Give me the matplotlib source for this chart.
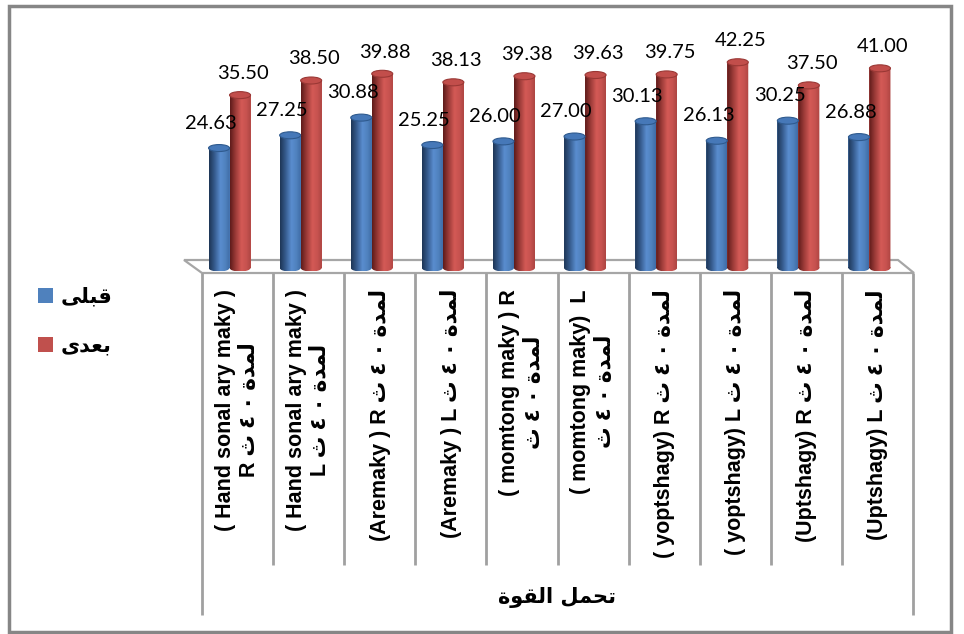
import matplotlib
matplotlib.use("Agg")
import matplotlib.pyplot as plt
import matplotlib.transforms as mtransforms
from matplotlib.colors import LinearSegmentedColormap
from matplotlib.patches import Ellipse, Polygon, Rectangle, PathPatch
from matplotlib.path import Path
import numpy as np

# Arabic words are kept in display order with presentation forms,
# matplotlib does no shaping or right-to-left layout by itself
dur = "\uFE99 \u0664 \u0660 \uFE93\uFEAA\uFEE4\uFEDF"          # لمدة ٤٠ ث
before_name = "\uFEF0\uFEE0\uFE92\uFED7"                        # قبلى
after_name = "\uFEEF\uFEAA\uFECC\uFE91"                         # بعدى
group_name = "\uFE93\uFEEE\uFED8\uFEDF\uFE8D \uFEDE\uFEE4\uFEA4\uFE97"  # تحمل القوة

categories = [
    "( Hand sonal ary maky )\nR " + dur,
    "( Hand sonal ary maky )\nL " + dur,
    "(Aremaky ) R " + dur,
    "(Aremaky ) L " + dur,
    "( momtong maky ) R\n" + dur,
    "( momtong maky)  L\n" + dur,
    "( yoptshagy) R " + dur,
    "( yoptshagy) L " + dur,
    "(Uptshagy) R " + dur,
    "(Uptshagy) L " + dur,
]
before = [24.63, 27.25, 30.88, 25.25, 26.00, 27.00, 30.13, 26.13, 30.25, 26.88]
after = [35.50, 38.50, 39.88, 38.13, 39.38, 39.63, 39.75, 42.25, 37.50, 41.00]

W, H = 964, 634
PX = 4.87            # pixels per value unit
base_px = 268        # pixel row of value 0
top_px = 10
y_low = -3.0

fig = plt.figure(figsize=(W / 100, H / 100), dpi=100)
fig.patch.set_facecolor("white")

# decoration layer in pixel coordinates
deco = fig.add_axes([0, 0, 1, 1])
deco.set_xlim(0, W)
deco.set_ylim(H, 0)
deco.axis("off")

# bar layer
left_px, right_px = 202, 913
bottom_px = base_px - y_low * PX
ax = fig.add_axes([left_px / W, (H - bottom_px) / H,
                   (right_px - left_px) / W, (bottom_px - top_px) / H])
ax.set_xlim(-0.5, len(categories) - 0.5)
ax.set_ylim(y_low, (base_px - top_px) / PX)
ax.axis("off")
ax.patch.set_alpha(0)

mixed = mtransforms.blended_transform_factory(ax.transData, deco.transData)

# chart frame
deco.add_patch(Rectangle((9, 6), 942, 626, fill=False,
                         edgecolor="#868686", lw=2.5))

# floor of the 3d plot
deco.add_patch(Polygon([(184, 260), (898, 260), (914, 273), (202, 273)],
                       closed=True, facecolor="white",
                       edgecolor="#a6a6a6", lw=1.6))

# category table lines
n = len(categories)
for k in range(n + 1):
    y_end = 615 if k in (0, n) else 565
    deco.plot([k - 0.5, k - 0.5], [273, y_end], color="#a0a0a0", lw=2,
              transform=mixed, solid_capstyle="butt")

blue_cmap = LinearSegmentedColormap.from_list(
    "blue_cyl", [(0, "#1e3656"), (0.25, "#34598a"), (0.55, "#5a8dcf"),
                 (0.8, "#4f81bd"), (1, "#3f6ca6")])
red_cmap = LinearSegmentedColormap.from_list(
    "red_cyl", [(0, "#5e1b1a"), (0.25, "#983936"), (0.55, "#d45a56"),
                (0.8, "#c6524f"), (1, "#ad4542")])
grad = np.linspace(0, 1, 64).reshape(1, -1)

bw = 21 / 71.1
shift = -8 / 71.1
cap = 7 / PX
x = np.arange(n)


def cylinders(xpos, values, cmap, base_color, top_color, edge, z):
    bars = ax.bar(xpos, values, width=bw, color=base_color,
                  edgecolor="none", zorder=z)
    for rect in bars:
        x0, w, h = rect.get_x(), rect.get_width(), rect.get_height()
        cx = x0 + w / 2
        body = Path([(x0, 0), (x0 + w, 0), (x0 + w, h), (x0, h), (x0, 0)],
                    [Path.MOVETO, Path.LINETO, Path.LINETO, Path.LINETO,
                     Path.CLOSEPOLY])
        foot = Path.unit_circle().transformed(
            mtransforms.Affine2D().scale(w / 2, cap / 2).translate(cx, 0))
        shape = PathPatch(Path.make_compound_path(body, foot),
                          facecolor="none", edgecolor="none")
        ax.add_patch(shape)
        im = ax.imshow(grad, extent=[x0, x0 + w, -cap / 2, h], cmap=cmap,
                       aspect="auto", zorder=z + 0.1, interpolation="bilinear")
        im.set_clip_path(shape)
        ax.add_patch(Ellipse((cx, h), w, cap, facecolor=top_color,
                             edgecolor=edge, lw=0.8, zorder=z + 0.2))
    return bars


red_bars = cylinders(x + shift + bw / 2, after, red_cmap, "#c0504d",
                     "#c24e4b", "#9a3835", 2)
blue_bars = cylinders(x + shift - bw / 2, before, blue_cmap, "#4f81bd",
                      "#4678b8", "#2f5a8e", 3)

ax.set_xlim(-0.5, n - 0.5)
ax.set_ylim(y_low, (base_px - top_px) / PX)

label_font = dict(family=["Lato", "DejaVu Sans"], fontsize=14.5, color="black")
for rect, v in zip(blue_bars, before):
    ax.annotate(f"{v:.2f}", (rect.get_x() + rect.get_width() / 2, v),
                xytext=(-6, 18), textcoords="offset points",
                ha="center", va="center", annotation_clip=False, **label_font)
for rect, v in zip(red_bars, after):
    ax.annotate(f"{v:.2f}", (rect.get_x() + rect.get_width() / 2, v),
                xytext=(2, 15.5), textcoords="offset points",
                ha="center", va="center", annotation_clip=False, **label_font)

# category labels, rotated inside the table cells
for i, lab in enumerate(categories):
    deco.text(i, 289, lab, transform=mixed, rotation=90, ha="center",
              va="top", multialignment="center", fontsize=15.5,
              fontweight="bold", linespacing=1.2,
              family=["Liberation Sans", "DejaVu Sans"])

deco.text(557, 598, group_name, ha="center", va="center", fontsize=15,
          fontweight="bold", family="DejaVu Sans")

# legend
for ypos, color, name in [(295, "#4f81bd", before_name),
                          (344, "#c0504d", after_name)]:
    deco.add_patch(Rectangle((38, ypos - 7.5), 15, 15, facecolor=color,
                             edgecolor="none"))
    deco.text(86, ypos + 1, name, ha="center", va="center", fontsize=15,
              fontweight="bold", family="DejaVu Sans")

fig.savefig("out.png", dpi=100)
